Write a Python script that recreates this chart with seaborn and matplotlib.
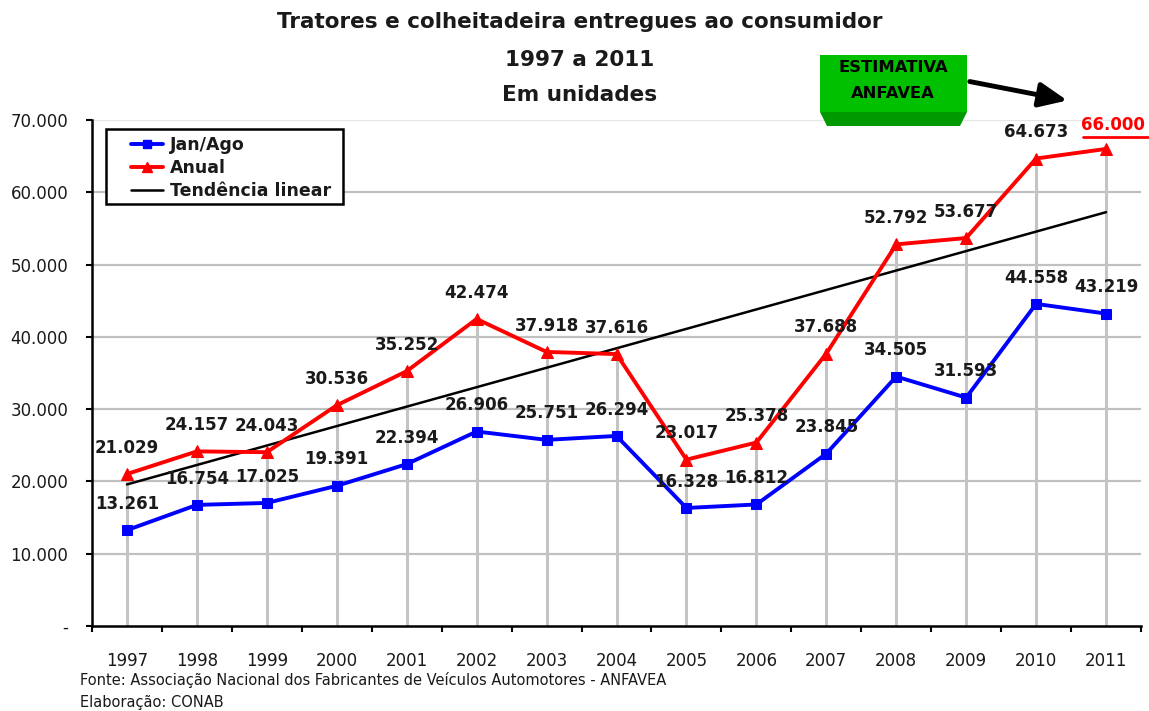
import numpy as np
import pandas as pd
import matplotlib
matplotlib.use("Agg")
import matplotlib.pyplot as plt
from matplotlib.patches import Polygon, Rectangle, FancyArrowPatch
from matplotlib.lines import Line2D
import seaborn as sns

years = ["1997", "1998", "1999", "2000", "2001", "2002", "2003", "2004",
         "2005", "2006", "2007", "2008", "2009", "2010", "2011"]
jan_ago = [13261, 16754, 17025, 19391, 22394, 26906, 25751, 26294,
           16328, 16812, 23845, 34505, 31593, 44558, 43219]
anual = [21029, 24157, 24043, 30536, 35252, 42474, 37918, 37616,
         23017, 25378, 37688, 52792, 53677, 64673, 66000]
y_ticks = [0, 10000, 20000, 30000, 40000, 50000, 60000, 70000]
y_labels = ["-", "10.000", "20.000", "30.000", "40.000", "50.000", "60.000", "70.000"]

sns.set_theme(style="white")
plt.rcParams['font.family'] = ['DejaVu Sans']

W, H = 1149, 711
fig = plt.figure(figsize=(W / 100, H / 100), dpi=100)
ax = fig.add_axes([92 / W, 1 - 626 / H, (1141 - 92) / W, (626 - 120) / H])

def fy(y):
    return 1 - y / H

def fx(x):
    return x / W

pos = np.arange(len(years))
df = pd.DataFrame({"pos": pos, "jan": jan_ago, "anual": anual})

# horizontal gridlines
for t in y_ticks[1:-1]:
    ax.axhline(t, color="#c0c0c0", lw=1.6, zorder=0)
ax.axhline(y_ticks[-1], color="#e6e6e6", lw=1.0, zorder=0)

# drop lines
ax.vlines(pos, 0, anual, color="#c4c4c4", lw=2.2, zorder=1)

# trend line
coef = np.polyfit(pos, anual, 1)
trend = np.polyval(coef, pos)
ax.plot(pos, trend, color="black", lw=1.8, zorder=2)

sns.lineplot(data=df, x="pos", y="jan", ax=ax, color="#0000ff", lw=2.8,
             marker="s", markersize=6.5, markeredgecolor="#0000ff", zorder=3)
sns.lineplot(data=df, x="pos", y="anual", ax=ax, color="#ff0000", lw=2.8,
             marker="^", markersize=8, markeredgecolor="#ff0000", zorder=3)

# data labels
def fmt(v):
    return f"{v:,}".replace(",", ".")

for i, v in enumerate(jan_ago):
    ax.annotate(fmt(v), (pos[i], v), xytext=(0, 19), textcoords="offset points",
                ha="center", va="center", fontsize=12, fontweight="bold",
                color="#1a1a1a", zorder=5)
for i, v in enumerate(anual):
    last = i == len(anual) - 1
    ax.annotate(fmt(v), (pos[i], v), xytext=(5 if last else 0, 19 if not last else 17),
                textcoords="offset points", ha="center", va="center",
                fontsize=12, fontweight="bold",
                color="#ff0000" if last else "#1a1a1a", zorder=5)

ax.set_xlim(-0.5, len(years) - 0.5)
ax.set_ylim(0, 70000)
ax.set_yticks(y_ticks)
ax.set_yticklabels(y_labels, fontsize=12, color="#1a1a1a")
ax.set_xticks(pos)
ax.set_xticklabels(years, fontsize=12, color="#1a1a1a")
ax.set_xlabel("")
ax.set_ylabel("")

# boundary ticks on x axis
ax.set_xticks(np.arange(-0.5, len(years), 1.0), minor=True)
ax.tick_params(axis="x", which="major", length=0, pad=19)
ax.tick_params(axis="x", which="minor", length=4.5, width=1.5, color="black", direction="out")
ax.tick_params(axis="y", which="major", length=4, width=1.5, color="black",
               direction="out", pad=13)
ax.xaxis.set_ticks_position("bottom")
ax.yaxis.set_ticks_position("left")

for s in ["top", "right"]:
    ax.spines[s].set_visible(False)
for s in ["left", "bottom"]:
    ax.spines[s].set_color("black")
    ax.spines[s].set_linewidth(1.8)

# legend (frame drawn separately)
frame = Rectangle((fx(106), fy(204)), fx(343) - fx(106), fy(129) - fy(204),
                  transform=fig.transFigure, facecolor="white", edgecolor="black",
                  lw=1.8, zorder=5.5)
ax.add_patch(frame)
handles = [
    Line2D([], [], color="#0000ff", lw=2.8, marker="s", markersize=6),
    Line2D([], [], color="#ff0000", lw=2.8, marker="^", markersize=7),
    Line2D([], [], color="black", lw=1.8),
]
leg = ax.legend(handles, ["Jan/Ago", "Anual", "Tendência linear"],
                loc="upper left", bbox_to_anchor=((125 - 92) / 1049, (626 - 130) / 506),
                borderaxespad=0, frameon=False,
                prop={"weight": "bold", "size": 12.5}, handlelength=1.84,
                labelspacing=0.3, borderpad=0.35, handletextpad=0.4)
leg.set_zorder(6)
for t in leg.get_texts():
    t.set_color("#1a1a1a")

# title
for ty, txt in [(22, "Tratores e colheitadeira entregues ao consumidor"),
                (60, "1997 a 2011"), (95, "Em unidades")]:
    fig.text(580 / W, 1 - ty / H, txt, ha="center", va="center", fontsize=15.5,
             fontweight="bold", color="#1a1a1a")

# green box
fig.patches.append(Rectangle((fx(820), fy(112)), fx(967) - fx(820), fy(55) - fy(112),
                             transform=fig.transFigure, facecolor="#00c000",
                             edgecolor="none", zorder=3))
fig.patches.append(Polygon([(fx(820), fy(112)), (fx(967), fy(112)), (fx(960), fy(126)),
                            (fx(827), fy(126))], closed=True, transform=fig.transFigure,
                           facecolor="#009a00", edgecolor="none", zorder=3))
fig.text(fx(893), fy(68), "ESTIMATIVA", ha="center", va="center", fontsize=11.8,
         fontweight="bold", color="black", zorder=4)
fig.text(fx(893), fy(93), "ANFAVEA", ha="center", va="center", fontsize=11.8,
         fontweight="bold", color="black", zorder=4)
arrow = FancyArrowPatch((fx(967), fy(81)), (fx(1070), fy(101)), transform=fig.transFigure,
                        arrowstyle="-|>,head_length=17,head_width=7.5", mutation_scale=1,
                        color="black", lw=3.5, zorder=4)
fig.patches.append(arrow)

# underline under 66.000
fig.add_artist(Line2D([fx(1083), fx(1148)], [fy(137), fy(137)], transform=fig.transFigure,
                      color="#ff0000", lw=2.0))

# footer
fig.text(80 / W, 1 - 680 / H,
         "Fonte: Associação Nacional dos Fabricantes de Veículos Automotores - ANFAVEA",
         ha="left", va="center", fontsize=10.5, color="#1a1a1a")
fig.text(80 / W, 1 - 703 / H, "Elaboração: CONAB", ha="left", va="center",
         fontsize=10.5, color="#1a1a1a")

fig.savefig("out.png", dpi=100, facecolor="white")
